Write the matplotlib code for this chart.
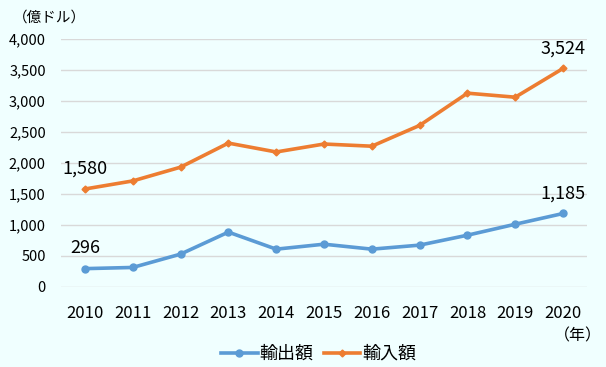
import matplotlib.pyplot as plt

plt.rcParams['font.family'] = ['Noto Sans CJK JP', 'DejaVu Sans']

# データ
years = ["2010", "2011", "2012", "2013", "2014", "2015", "2016", "2017", "2018", "2019", "2020"]
exports = [296, 315, 530, 885, 610, 690, 610, 675, 835, 1012, 1185]
imports = [1580, 1710, 1932, 2320, 2177, 2305, 2270, 2605, 3125, 3060, 3524]
yticks = [0, 500, 1000, 1500, 2000, 2500, 3000, 3500, 4000]

bg = "#F0FFFF"
blue = "#5B9BD5"
orange = "#ED7D31"

fig = plt.figure(figsize=(6.06, 3.67), dpi=100, facecolor=bg)
ax = fig.add_axes([0.1007, 0.218, 0.8679, 0.676], facecolor=bg)

x = list(range(len(years)))
ax.plot(x, exports, color=blue, lw=2.6, marker='o', ms=5, label="輸出額")
ax.plot(x, imports, color=orange, lw=2.6, marker='D', ms=3.5, label="輸入額")

ax.set_xlim(-0.5, len(years) - 0.5)
ax.set_ylim(0, 4000)
ax.set_yticks(yticks)
ax.set_yticklabels([f"{v:,}" for v in yticks], fontsize=10.5)
ax.set_xticks(x)
ax.set_xticklabels(years, fontsize=12)
ax.tick_params(axis='y', length=0, pad=11)
ax.tick_params(axis='x', length=0, pad=13)
ax.grid(axis='y', color='#D9D9D9', lw=1)
ax.set_axisbelow(True)
for s in ax.spines.values():
    s.set_visible(False)

# データラベル(始点と終点)
for series in (exports, imports):
    for i in (0, -1):
        ax.annotate(f"{series[i]:,}", (x[i], series[i]), xytext=(0, 14.5),
                    textcoords='offset points', ha='center', va='center', fontsize=13)

fig.text(0.0215, 0.953, "（億ドル）", fontsize=10.5, ha='left', va='center')
fig.text(0.953, 0.085, "（年）", fontsize=11.5, ha='center', va='center')

ax.legend(loc='center', bbox_to_anchor=(0.49, -0.27), ncol=2, frameon=False,
          fontsize=13, handlelength=2.0, columnspacing=0.6, handletextpad=0.1)

fig.savefig("out.png", dpi=100, facecolor=bg)
